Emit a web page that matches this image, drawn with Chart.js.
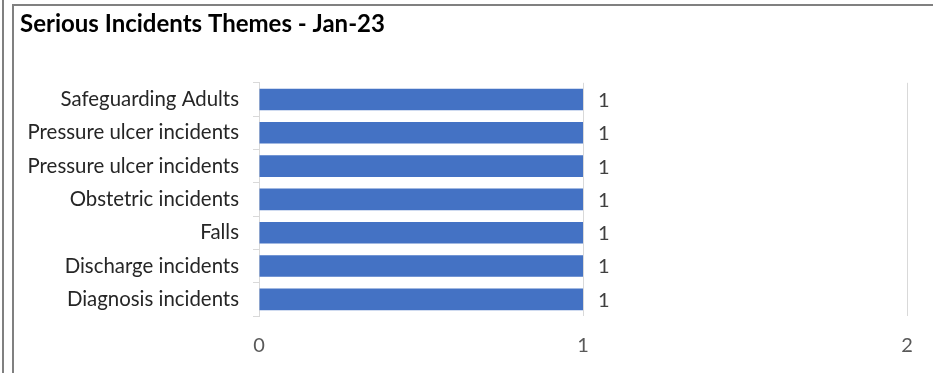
<!DOCTYPE html>
<html>
<head>
<meta charset="utf-8">
<script src="https://cdn.jsdelivr.net/npm/chart.js@4"></script>
<style>
    body { margin: 0; background: #fff; }
    #outer { position: absolute; left: 2px; top: 0; width: 2px; height: 373px; background: #808080; }
    #frame { position: absolute; left: 12px; top: 4px; width: 921px; height: 369px;
             border-left: 2px solid #808080; border-top: 2px solid #808080; }
    #wrap { position: absolute; left: 14px; top: 6px; width: 919px; height: 367px; }
</style>
</head>
<body>
<div id="outer"></div>
<div id="frame"></div>
<div id="wrap"><canvas id="chart-bars"></canvas></div>
<script>
const titleText = "Serious Incidents Themes - Jan-23";
const categories = [
    "Safeguarding Adults",
    "Pressure ulcer incidents",
    "Pressure ulcer incidents",
    "Obstetric incidents",
    "Falls",
    "Discharge incidents",
    "Diagnosis incidents"
];
const incidentCounts = [1, 1, 1, 1, 1, 1, 1];
const xTicks = [0, 1, 2];

// draws the value to the right of each bar
const valueLabels = {
    id: 'valueLabels',
    afterDatasetsDraw(chart) {
        const ctx = chart.ctx;
        const meta = chart.getDatasetMeta(0);
        ctx.save();
        ctx.font = '20px Lato';
        ctx.fillStyle = '#404040';
        ctx.textAlign = 'left';
        ctx.textBaseline = 'middle';
        meta.data.forEach(function (bar, i) {
            ctx.fillText(incidentCounts[i], bar.x + 15, bar.y + 1);
        });
        ctx.restore();
    }
};

var ctx = document.getElementById("chart-bars").getContext("2d");
new Chart(ctx, {
    type: "bar",
    data: {
        labels: categories,
        datasets: [{
            label: "Incidents",
            backgroundColor: "#4472C4",
            borderWidth: 0,
            data: incidentCounts,
            categoryPercentage: 1,
            barPercentage: 0.65
        }]
    },
    plugins: [valueLabels],
    options: {
        indexAxis: 'y',
        responsive: true,
        maintainAspectRatio: false,
        animation: false,
        layout: {
            padding: { left: 6, right: 26, top: 0, bottom: 0 }
        },
        plugins: {
            legend: { display: false },
            tooltip: { enabled: false },
            title: {
                display: true,
                text: titleText,
                align: 'start',
                color: '#000',
                font: { size: 24, weight: 'bold', family: "Lato", lineHeight: 1.2 },
                padding: { top: 4, bottom: 44 }
            }
        },
        scales: {
            x: {
                min: 0,
                max: 2,
                afterBuildTicks: function (scale) {
                    scale.ticks = xTicks.map(v => ({ value: v }));
                },
                afterFit: function (scale) {
                    scale.height = 57;
                },
                grid: {
                    color: '#d9d9d9',
                    drawTicks: false
                },
                border: { display: false },
                ticks: {
                    color: '#595959',
                    padding: 18,
                    font: { size: 20, family: "Lato" }
                }
            },
            y: {
                afterFit: function (scale) {
                    scale.width = 239;
                },
                grid: {
                    drawOnChartArea: false,
                    drawTicks: true,
                    tickLength: 6,
                    color: '#d9d9d9'
                },
                border: { display: true, color: '#d9d9d9' },
                ticks: {
                    color: '#262626',
                    padding: 14,
                    font: { size: 20.4, family: "Lato" }
                }
            }
        }
    }
});
</script>
</body>
</html>
